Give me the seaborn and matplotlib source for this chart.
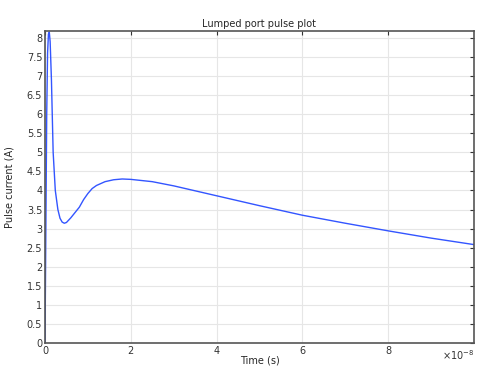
import numpy as np
import pandas as pd
import matplotlib
matplotlib.use("Agg")
import matplotlib.pyplot as plt
import seaborn as sns

# time in units of 1e-8 s
time_e8 = [0, 0.02, 0.04, 0.06, 0.08, 0.10, 0.12, 0.15, 0.19, 0.24, 0.3, 0.35, 0.4, 0.45,
           0.5, 0.6, 0.7, 0.8, 0.9, 1.0, 1.1, 1.2, 1.4, 1.6, 1.8, 2.0, 2.5, 3.0, 3.5, 4.0,
           5.0, 6.0, 7.0, 8.0, 9.0, 10.0]
current = [0, 3.0, 6.0, 7.6, 8.1, 8.15, 7.9, 6.9, 5.0, 4.0, 3.5, 3.27, 3.17, 3.14,
           3.16, 3.28, 3.42, 3.56, 3.76, 3.92, 4.05, 4.13, 4.23, 4.28, 4.3, 4.29, 4.23, 4.12,
           3.99, 3.86, 3.6, 3.35, 3.14, 2.94, 2.75, 2.58]
xtick_vals = [0, 2, 4, 6, 8]
ytick_vals = [0, 0.5, 1, 1.5, 2, 2.5, 3, 3.5, 4, 4.5, 5, 5.5, 6, 6.5, 7, 7.5, 8]

df = pd.DataFrame({"t": np.array(time_e8) * 1e-8, "I": current})

sns.set_style("white")
plt.rcParams['font.family'] = ['DejaVu Sans']

fig = plt.figure(figsize=(4.79, 3.66), dpi=100)
ax = fig.add_axes([45/479, 23/366, 429/479, 312/366])
sns.lineplot(data=df, x="t", y="I", ax=ax, color="#3355ff", linewidth=1.0)

ax.set_xlim(0, 1e-7)
ax.set_ylim(0, 8.18)
ax.set_xticks([v * 1e-8 for v in xtick_vals])
ax.set_xticklabels([str(v) for v in xtick_vals])
ax.set_yticks(ytick_vals)
ax.set_yticklabels([f"{v:g}" for v in ytick_vals])
ax.grid(True, color="#e6e6e6", linewidth=0.8)
ax.tick_params(direction="in", length=3, width=0.8, labelsize=7, colors="#333333",
               top=True, right=True, pad=2)
for s in ax.spines.values():
    s.set_color("#555555")
    s.set_linewidth(1.2)
ax.set_xlabel("Time (s)", fontsize=7, labelpad=0)
ax.set_ylabel("Pulse current (A)", fontsize=7, labelpad=9)
ax.set_title("Lumped port pulse plot", fontsize=7, pad=3)
ax.text(1.0, -0.018, r"$\times10^{-8}$", transform=ax.transAxes, ha="right", va="top",
        fontsize=7, color="#333333")

fig.savefig("out.png", dpi=100)
